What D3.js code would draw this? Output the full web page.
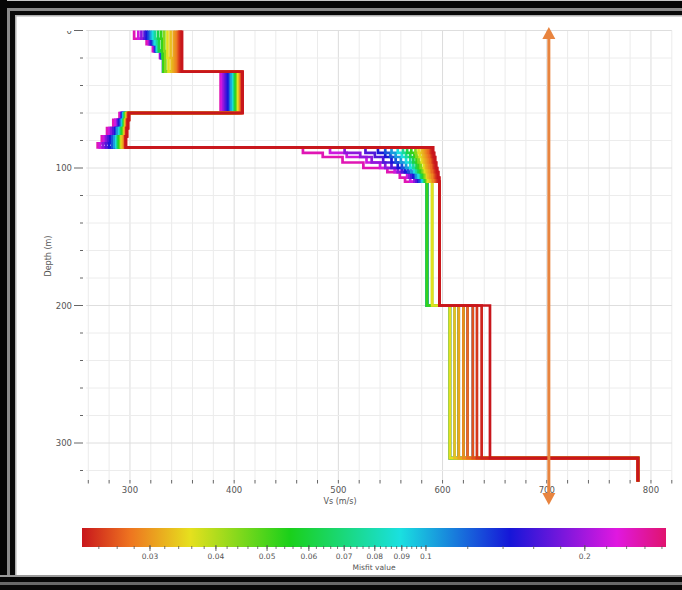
<!DOCTYPE html>
<html>
<head>
<meta charset="utf-8">
<script src="https://cdn.jsdelivr.net/npm/d3@7"></script>
<style>
  html, body { margin: 0; padding: 0; background: #fff; overflow: hidden; }
  text { font-family: "DejaVu Sans", "Liberation Sans", sans-serif; }
</style>
</head>
<body>
<svg id="chart" width="682" height="590"></svg>
<script>
// ---- Inversion results: Vs profiles ordered from worst to best misfit ----
const misfit = [0.25, 0.22, 0.19, 0.165, 0.145, 0.125, 0.105, 0.09, 0.075, 0.062, 0.052,
                0.044, 0.036, 0.033, 0.031, 0.029, 0.027, 0.0255, 0.024, 0.023, 0.0223];

// Top depth (m) of each sub-layer
const layer1Tops = [0, 6, 10, 15, 20];
const layer2Top = 30;
const layer3Tops = [60, 65, 71, 77, 82];
const layer4Tops = [85, 89, 92, 96, 100, 103, 107];
const layer5Top = 110;
const layer6Top = 200;
const halfspaceTop = 311;
const maxDepth = 328;

// Shear-wave velocity (m/s) of every sub-layer, one row per profile
const vsLayer1 = [
  [304, 316, 322, 329, 332], [308, 318, 323, 329, 332], [311, 319, 324, 330, 332],
  [314, 320, 324, 330, 332], [316, 321, 325, 330, 332], [318, 322, 325, 331, 332],
  [320, 323, 326, 331, 332], [322, 324, 326, 331, 332], [324, 326, 327, 331, 332],
  [327, 328, 328, 331, 332], [330, 331, 331, 332, 332], [333, 333, 333, 334, 334],
  [336, 336, 336, 336, 337], [339, 339, 339, 339, 340], [342, 342, 342, 342, 342],
  [344, 344, 344, 344, 344], [346, 346, 346, 346, 346], [347, 347, 347, 347, 347],
  [348, 348, 348, 348, 348], [349, 349, 349, 349, 349], [350, 350, 350, 350, 350]
];
const vsLayer2 = [387, 388, 390, 392, 394, 396, 397, 399, 400, 401, 402,
                  403, 404, 405, 406, 406, 407, 407, 408, 408, 408];
const vsLayer3 = [
  [290, 284, 278, 273, 269], [291, 286, 280, 275, 271], [292, 288, 282, 277, 274],
  [292, 289, 284, 279, 277], [293, 290, 286, 281, 280], [293, 291, 287, 283, 283],
  [294, 292, 288, 285, 285], [294, 293, 290, 287, 287], [295, 294, 291, 288, 288],
  [295, 294, 292, 289, 289], [296, 295, 293, 290, 290], [296, 295, 294, 291, 291],
  [297, 296, 295, 292, 292], [297, 296, 295, 293, 293], [298, 297, 296, 294, 294],
  [298, 297, 296, 295, 295], [298, 297, 297, 295, 295], [299, 298, 297, 296, 296],
  [299, 298, 297, 296, 296], [299, 298, 297, 296, 296], [299, 298, 297, 296, 296]
];
const vsLayer4 = [
  [466, 485, 504, 524, 547, 559, 564], [492, 508, 527, 540, 554, 566, 569],
  [506, 521, 532, 545, 557, 568, 573], [526, 535, 543, 551, 561, 570, 575],
  [538, 545, 551, 557, 564, 572, 577], [545, 550, 555, 561, 567, 574, 578],
  [551, 555, 560, 565, 570, 575, 580], [557, 561, 565, 569, 573, 577, 581],
  [562, 565, 569, 572, 575, 579, 582], [566, 569, 572, 575, 577, 580, 583],
  [570, 573, 575, 577, 579, 582, 584], [574, 575, 577, 579, 581, 583, 585],
  [577, 578, 580, 582, 583, 585, 586], [580, 581, 582, 584, 585, 586, 588],
  [582, 583, 584, 585, 587, 588, 590], [584, 585, 586, 587, 589, 590, 591],
  [586, 587, 588, 589, 590, 592, 593], [588, 589, 590, 591, 592, 593, 594],
  [589, 590, 591, 592, 593, 594, 595], [590, 591, 592, 593, 594, 595, 596],
  [591, 592, 593, 594, 595, 596, 597]
];
const vsLayer5 = [585, 585, 585, 585, 585, 585, 585, 585, 585, 585, 585,
                  590, 590, 597, 597, 597, 597, 597, 597, 597, 597];
const vsLayer6 = [620, 607, 611.5, 615.5, 624, 607, 629, 611.5, 607, 615.5, 620,
                  607, 607, 611.5, 615.5, 620, 624, 629, 633, 637.5, 645.5];
const vsHalfspace = 787.5;

// Axes and colour bar ticks
const depthTickLabels = [0, 100, 200, 300];
const vsTickLabels = [300, 400, 500, 600, 700, 800];
const misfitTickLabels = [0.03, 0.04, 0.05, 0.06, 0.07, 0.08, 0.09, 0.1, 0.2];
const arrowVs = 702;

// ---- Scales ----
const x = d3.scaleLinear().domain([258, 820]).range([86.2, 671.8]);
const y = d3.scaleLinear().domain([0, maxDepth]).range([30.5, 481.5]);
const misfitDomain = [0.0223, 0.285];
const misfitPos = d3.scaleLog().domain(misfitDomain).range([0, 1]);
const cmapStops = [0, 0.082, 0.185, 0.356, 0.545, 0.733, 0.916, 1];
const cmapColors = ["#c8161c", "#ee7420", "#e6e01e", "#1ad01a", "#1ae0e0", "#1616d8", "#e018e0", "#e0146e"];
const cmap = d3.scaleLinear().domain(cmapStops).range(cmapColors).interpolate(d3.interpolateRgb).clamp(true);
const colorOf = m => cmap(misfitPos(m));

const svg = d3.select("#chart");
svg.append("rect").attr("width", 682).attr("height", 590).attr("fill", "#fff");

// ---- Grid ----
const grid = svg.append("g");
d3.range(260, 821, 20).forEach(v => {
  grid.append("line")
    .attr("x1", x(v)).attr("x2", x(v)).attr("y1", y(0)).attr("y2", y(maxDepth))
    .attr("stroke", v % 100 === 0 ? "#dcdcdc" : "#ebebeb").attr("stroke-width", 1);
});
d3.range(0, 321, 20).forEach(d => {
  grid.append("line")
    .attr("x1", x(258)).attr("x2", x(820)).attr("y1", y(d)).attr("y2", y(d))
    .attr("stroke", d % 100 === 0 ? "#dedede" : "#ececec").attr("stroke-width", 1);
});

// ---- Profiles (worst first, best drawn last on top) ----
const tops = [...layer1Tops, layer2Top, ...layer3Tops, ...layer4Tops, layer5Top, layer6Top, halfspaceTop];
function profilePoints(i) {
  const vs = [...vsLayer1[i], vsLayer2[i], ...vsLayer3[i], ...vsLayer4[i], vsLayer5[i], vsLayer6[i], vsHalfspace];
  const pts = [];
  tops.forEach((t, k) => {
    const bottom = k < tops.length - 1 ? tops[k + 1] : maxDepth;
    pts.push([vs[k], t], [vs[k], bottom]);
  });
  return pts;
}
const line = d3.line().x(d => x(d[0])).y(d => y(d[1]));
const profiles = svg.append("g");
misfit.forEach((m, i) => {
  profiles.append("path")
    .attr("d", line(profilePoints(i)))
    .attr("fill", "none")
    .attr("stroke", colorOf(m))
    .attr("stroke-width", 2.7)
    .attr("stroke-linejoin", "miter");
});

// ---- Axes ----
const axes = svg.append("g").attr("fill", "#555").attr("font-size", 8.5);
const clip = svg.append("clipPath").attr("id", "yclip");
clip.append("rect").attr("x", 40).attr("y", y(0) + 0.5).attr("width", 50).attr("height", 470);
d3.range(0, 321, 20).forEach(d => {
  const major = d % 100 === 0;
  axes.append("line")
    .attr("x1", major ? 74 : 80).attr("x2", 83)
    .attr("y1", y(d)).attr("y2", y(d))
    .attr("stroke", "#666").attr("stroke-width", 1);
});
depthTickLabels.forEach(d => {
  axes.append("text").attr("x", 72).attr("y", y(d) + 3)
    .attr("text-anchor", "end").attr("clip-path", "url(#yclip)").text(d);
});
d3.range(260, 821, 20).forEach(v => {
  axes.append("line")
    .attr("x1", x(v)).attr("x2", x(v)).attr("y1", 480).attr("y2", 483.5)
    .attr("stroke", "#666").attr("stroke-width", 1);
});
vsTickLabels.forEach(v => {
  axes.append("text").attr("x", x(v)).attr("y", 493)
    .attr("text-anchor", "middle").text(v);
});
axes.append("text").attr("x", 340).attr("y", 504).attr("text-anchor", "middle")
  .attr("font-size", 8).text("Vs (m/s)");
axes.append("text").attr("transform", `translate(51,${(y(0) + y(maxDepth)) / 2}) rotate(-90)`)
  .attr("text-anchor", "middle").attr("font-size", 8).text("Depth (m)");

// ---- Double-headed arrow ----
const ax = x(arrowVs);
const arrowColor = "#e8843f";
const yTop = y(-2.5), yBot = y(345);
svg.append("line").attr("x1", ax).attr("x2", ax).attr("y1", yTop + 6).attr("y2", yBot - 6)
  .attr("stroke", arrowColor).attr("stroke-width", 3);
svg.append("path")
  .attr("d", `M${ax},${yTop} L${ax - 6.5},${yTop + 12} L${ax + 6.5},${yTop + 12} Z`)
  .attr("fill", arrowColor);
svg.append("path")
  .attr("d", `M${ax},${yBot} L${ax - 6.5},${yBot - 12} L${ax + 6.5},${yBot - 12} Z`)
  .attr("fill", arrowColor);

// ---- Colour bar ----
const cb = { x0: 82, x1: 666, y0: 528, y1: 547 };
const cbx = d3.scaleLog().domain(misfitDomain).range([cb.x0, cb.x1]);
const grad = svg.append("defs").append("linearGradient").attr("id", "misfitGrad")
  .attr("x1", "0%").attr("x2", "100%").attr("y1", "0%").attr("y2", "0%");
cmapStops.forEach((s, i) => {
  grad.append("stop").attr("offset", `${s * 100}%`).attr("stop-color", cmapColors[i]);
});
svg.append("rect").attr("x", cb.x0).attr("y", cb.y0)
  .attr("width", cb.x1 - cb.x0).attr("height", cb.y1 - cb.y0)
  .attr("fill", "url(#misfitGrad)");
const minorMisfit = d3.range(0.024, 0.1, 0.002).concat(d3.range(0.12, 0.29, 0.02));
minorMisfit.forEach(v => {
  svg.append("line").attr("x1", cbx(v)).attr("x2", cbx(v))
    .attr("y1", cb.y1 - 1).attr("y2", cb.y1 + 2)
    .attr("stroke", "#555").attr("stroke-width", 0.8);
});
misfitTickLabels.forEach(v => {
  svg.append("line").attr("x1", cbx(v)).attr("x2", cbx(v))
    .attr("y1", cb.y1 - 2).attr("y2", cb.y1 + 4)
    .attr("stroke", "#555").attr("stroke-width", 0.9);
  svg.append("text").attr("x", cbx(v)).attr("y", 559)
    .attr("text-anchor", "middle").attr("font-size", 7.5).attr("fill", "#555")
    .text(String(v));
});
svg.append("text").attr("x", 374).attr("y", 570).attr("text-anchor", "middle")
  .attr("font-size", 7.5).attr("fill", "#555").text("Misfit value");

// ---- Frame ----
const frame = svg.append("g");
const band = (xx, yy, w, h, c) => frame.append("rect").attr("x", xx).attr("y", yy)
  .attr("width", w).attr("height", h).attr("fill", c);
band(0, 0, 682, 1, "#c8c8c8");
band(0, 1, 682, 7, "#050505");
band(0, 8, 682, 3, "#8a8a8a");
band(0, 11, 682, 4, "#0a0a0a");
band(0, 15, 682, 1.5, "#b0b0b0");
band(0, 0, 7, 590, "#050505");
band(7, 8, 3, 582, "#8a8a8a");
band(10, 11, 5, 579, "#0a0a0a");
band(15, 15, 1.5, 575, "#b0b0b0");
band(0, 575, 682, 2, "#9a9a9a");
band(0, 577, 682, 5, "#080808");
band(0, 582, 682, 3, "#6a6a6a");
band(0, 585, 682, 5, "#0a0a0a");
</script>
</body>
</html>
